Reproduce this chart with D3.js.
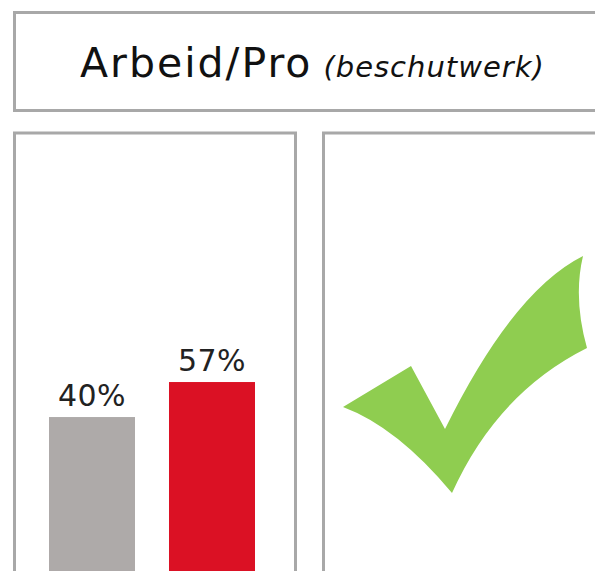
<!DOCTYPE html>
<html>
<head>
<meta charset="utf-8">
<script src="https://cdn.jsdelivr.net/npm/d3@7"></script>
<style>
  html, body { margin: 0; padding: 0; background: #fff; overflow: hidden; }
</style>
</head>
<body>
<div id="chart"></div>
<script>
const titleMain = 'Arbeid/Pro';
const titleSub = '(beschutwerk)';
const categories = ['A', 'B'];
const values = [40, 57];
const barColors = ['#aeaaa9', '#db1124'];

const width = 595, height = 571;
const border = '#a8a8a8';

const svg = d3.select('#chart').append('svg')
    .attr('width', width)
    .attr('height', height);

// title box (runs off the right edge)
svg.append('rect')
    .attr('x', 14.5).attr('y', 12.5)
    .attr('width', 620).attr('height', 98)
    .attr('fill', '#fff')
    .attr('stroke', border)
    .attr('stroke-width', 3);

const title = svg.append('text')
    .attr('x', 80)
    .attr('y', 77)
    .attr('font-family', 'DejaVu Sans, Verdana, sans-serif')
    .attr('fill', '#111');
title.append('tspan')
    .attr('font-size', 41)
    .attr('letter-spacing', 2)
    .text(titleMain);
title.append('tspan')
    .attr('dx', 11)
    .attr('font-size', 29)
    .attr('font-style', 'italic')
    .attr('letter-spacing', 1)
    .text(titleSub);

// panels (cropped at the bottom)
svg.append('rect')
    .attr('x', 14.5).attr('y', 133)
    .attr('width', 281).attr('height', 480)
    .attr('fill', '#fff')
    .attr('stroke', border)
    .attr('stroke-width', 3);

svg.append('rect')
    .attr('x', 323.5).attr('y', 133)
    .attr('width', 320).attr('height', 480)
    .attr('fill', '#fff')
    .attr('stroke', border)
    .attr('stroke-width', 3);

// bars
const x = d3.scaleBand()
    .domain(categories)
    .range([29, 275])
    .paddingInner(0.2833)
    .paddingOuter(0.1667);

const y = d3.scaleLinear()
    .domain([0, 100])
    .range([499.4, 293.5]);

const bars = svg.append('g');
bars.selectAll('rect')
    .data(values)
    .enter()
    .append('rect')
    .attr('x', (d, i) => x(categories[i]))
    .attr('y', d => y(d))
    .attr('width', x.bandwidth())
    .attr('height', d => height + 10 - y(d))
    .attr('fill', (d, i) => barColors[i]);

bars.selectAll('text')
    .data(values)
    .enter()
    .append('text')
    .attr('x', (d, i) => x(categories[i]) + x.bandwidth() / 2)
    .attr('y', d => y(d) - 11)
    .attr('text-anchor', 'middle')
    .attr('font-family', 'DejaVu Sans, Verdana, sans-serif')
    .attr('font-size', 30)
    .attr('letter-spacing', 0.5)
    .attr('fill', '#222')
    .text(d => d + '%');

// check mark
const check = d3.path();
check.moveTo(343, 407);
check.lineTo(411, 366);
check.lineTo(445, 429);
check.quadraticCurveTo(513, 291, 583, 256);
check.quadraticCurveTo(573, 298, 587, 348);
check.quadraticCurveTo(497, 393, 452, 493);
check.quadraticCurveTo(397, 427, 343, 407);
check.closePath();

svg.append('path')
    .attr('d', check.toString())
    .attr('fill', '#8fcd50');
</script>
</body>
</html>
